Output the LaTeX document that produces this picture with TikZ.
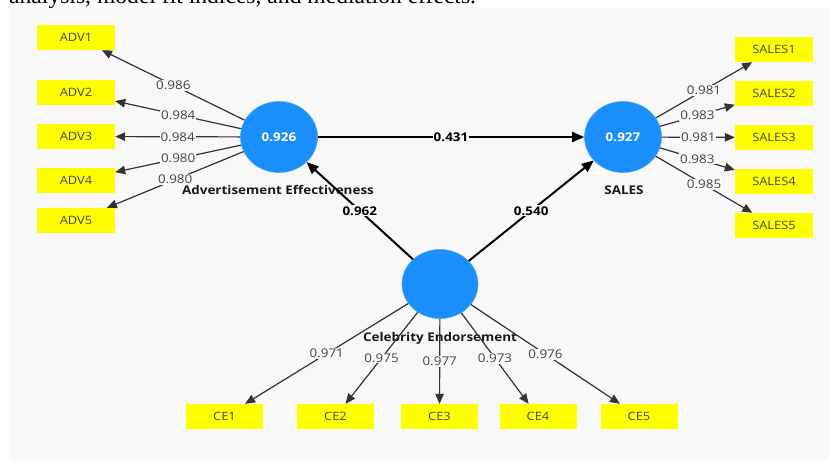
\documentclass[tikz,border=0pt]{standalone}
\usepackage{fontspec}
\setmainfont{Open Sans}[FakeStretch=1.12]
\newfontfamily\capserif{Liberation Serif}
\usetikzlibrary{arrows.meta,shapes.geometric}
\definecolor{panel}{HTML}{F8F8F8}
\definecolor{lvblue}{HTML}{1A8FFB}
\definecolor{boxyel}{HTML}{FFFF00}
\definecolor{ldtext}{HTML}{444444}
\definecolor{lnline}{HTML}{333333}
\tikzset{
  latent/.style={ellipse, fill=lvblue, draw=lvblue!80!white, line width=0.6pt, minimum width=77pt, minimum height=71pt, inner sep=0pt, text=white, font=\fontsize{12}{14}\selectfont\bfseries},
  ind/.style={rectangle, fill=boxyel, minimum width=78pt, minimum height=25pt, inner sep=0pt, text=ldtext, font=\fontsize{11.5}{13}\selectfont},
  indce/.style={ind, minimum width=77pt, minimum height=25pt},
  lvname/.style={font=\fontsize{12}{14}\selectfont\bfseries, text=black!90, inner sep=1pt},
  loadarrow/.style={draw=lnline, line width=1.2pt, -{Triangle[length=10pt,width=8.5pt]}},
  patharrow/.style={draw=black, line width=2pt, -{Triangle[length=12pt,width=10pt]}},
  loadlbl/.style={fill=panel, inner sep=1pt, text=ldtext, font=\fontsize{12}{14}\selectfont},
  pathlbl/.style={fill=panel, inner sep=1pt, text=black, font=\fontsize{12}{14}\selectfont\bfseries},
}
\begin{document}
\begin{tikzpicture}[x=1pt,y=-1pt]
\useasboundingbox (0,0) rectangle (832,460);
\node[anchor=base west, inner sep=0pt, font=\capserif\fontsize{23.6}{26}\selectfont] (cap) at (9,4) {analysis, model fit indices, and mediation effects.};
\fill[panel] (9,8) rectangle (829,460);

% latent variables
\node[latent] (adv) at (279,137) {0.926};
\node[latent] (sales) at (623,137) {0.927};
\node[latent, minimum width=76pt, minimum height=69pt] (ce) at (440,284) {};

% names
\node[lvname] (advname) at (278,190) {Advertisement Effectiveness};
\node[lvname] (salesname) at (624,190) {SALES};
\node[lvname] (cename) at (440,338) {Celebrity Endorsement};

% indicators
\node[ind] (adv1) at (76,37.5) {ADV1};
\node[ind] (adv2) at (76,92.5) {ADV2};
\node[ind] (adv3) at (76,136.5) {ADV3};
\node[ind] (adv4) at (76,180.5) {ADV4};
\node[ind] (adv5) at (76,220.5) {ADV5};

\node[ind] (s1) at (774,49.5) {SALES1};
\node[ind] (s2) at (774,93.5) {SALES2};
\node[ind] (s3) at (774,137.5) {SALES3};
\node[ind] (s4) at (774,181.5) {SALES4};
\node[ind] (s5) at (774,225.5) {SALES5};

\node[indce] (ce1) at (224.5,416.5) {CE1};
\node[indce] (ce2) at (335.5,416.5) {CE2};
\node[indce] (ce3) at (439.5,416.5) {CE3};
\node[indce] (ce4) at (538,416.5) {CE4};
\node[indce] (ce5) at (639,416.5) {CE5};

% outer loadings
\draw[loadarrow] (adv) -- node[loadlbl, pos=0.5] {0.986} (adv1);
\draw[loadarrow] (adv) -- node[loadlbl, pos=0.5] {0.984} (adv2);
\draw[loadarrow] (adv) -- node[loadlbl, pos=0.5] {0.984} (adv3);
\draw[loadarrow] (adv) -- node[loadlbl, pos=0.5] {0.980} (adv4);
\draw[loadarrow] (adv) -- node[loadlbl, pos=0.5] {0.980} (adv5);

\draw[loadarrow] (sales) -- node[loadlbl, pos=0.5] {0.981} (s1);
\draw[loadarrow] (sales) -- node[loadlbl, pos=0.5] {0.983} (s2);
\draw[loadarrow] (sales) -- node[loadlbl, pos=0.5] {0.981} (s3);
\draw[loadarrow] (sales) -- node[loadlbl, pos=0.5] {0.983} (s4);
\draw[loadarrow] (sales) -- node[loadlbl, pos=0.5] {0.985} (s5);

\draw[loadarrow] (ce) -- node[loadlbl, pos=0.5] {0.971} (ce1);
\draw[loadarrow] (ce) -- node[loadlbl, pos=0.5] {0.975} (ce2);
\draw[loadarrow] (ce) -- node[loadlbl, pos=0.5] {0.977} (ce3);
\draw[loadarrow] (ce) -- node[loadlbl, pos=0.5] {0.973} (ce4);
\draw[loadarrow] (ce) -- node[loadlbl, pos=0.5] {0.976} (ce5);

% structural paths
\draw[patharrow] (adv) -- node[pathlbl, pos=0.5] {0.431} (sales);
\draw[patharrow] (ce) -- node[pathlbl, pos=0.5] {0.962} (adv);
\draw[patharrow] (ce) -- node[pathlbl, pos=0.5] {0.540} (sales);
\end{tikzpicture}
\end{document}
